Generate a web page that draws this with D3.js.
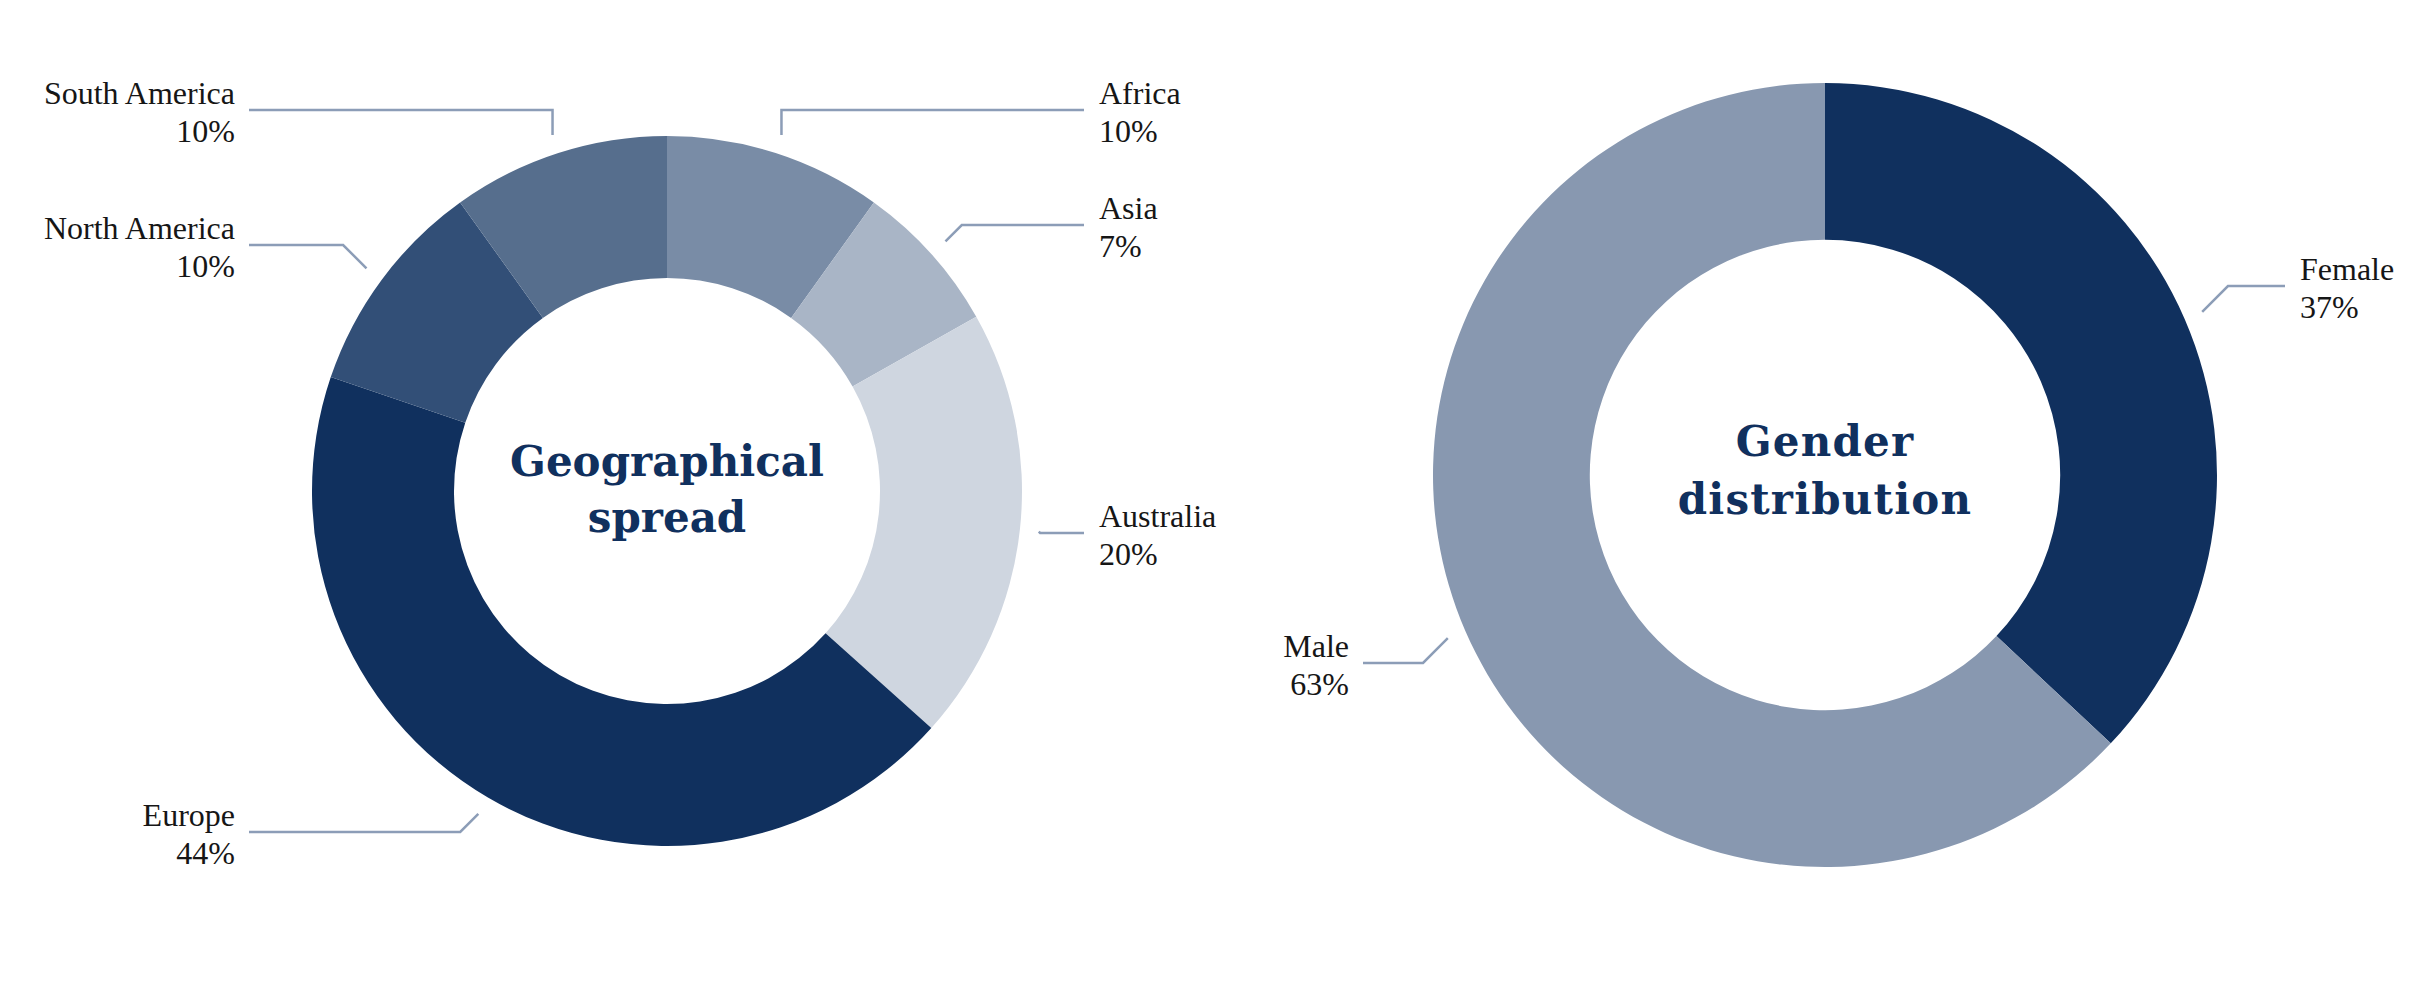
<!DOCTYPE html>
<html>
<head>
<meta charset="utf-8">
<script src="https://cdn.jsdelivr.net/npm/d3@7"></script>
<style>
  body { margin: 0; background: #ffffff; }
  svg { display: block; }
  .lbl { font-family: "Liberation Serif", "DejaVu Serif", serif; font-size: 32px; fill: #161616; }
  .ttl { font-family: "DejaVu Serif", serif; font-weight: bold; font-size: 42px; fill: #10305e; }
</style>
</head>
<body>
<div id="chart"></div>
<script>
// geographical spread (percent, clockwise from 12 o'clock)
var regions = ["Africa", "Asia", "Australia", "Europe", "North America", "South America"];
var regionValues = [10, 7, 20, 44, 10, 10];
var regionColors = ["#798ca6", "#a9b5c6", "#cfd6e0", "#10305e", "#324f77", "#566e8d"];

// gender distribution
var genders = ["Female", "Male"];
var genderValues = [37, 63];
var genderColors = ["#10305e", "#8898b0"];

// y of each label's leader line (layout only)
var regionLineY = [110, 225, 533, 832, 245, 110];
var genderLineY = [286, 663];

function init() {
    var w = 2428;
    var h = 996;

    var svg = d3.select("#chart")
                .append("svg")
                .attr("width", w)
                .attr("height", h);

    drawDonut(svg, {
        cx: 667, cy: 491, r: 355,
        names: regions, values: regionValues, colors: regionColors,
        lineY: regionLineY,
        leftX: 235, rightX: 1099,
        title: ["Geographical", "spread"], titleY: [476, 532], spacing: 0
    });

    drawDonut(svg, {
        cx: 1825, cy: 475, r: 392,
        names: genders, values: genderValues, colors: genderColors,
        lineY: genderLineY,
        leftX: 1349, rightX: 2300,
        title: ["Gender", "distribution"], titleY: [456, 514], spacing: 1.2
    });
}

function drawDonut(svg, o) {
    var pie = d3.pie().sort(null).value(function(d) { return d; });
    var arcs = pie(o.values);

    var arc = d3.arc()
                .innerRadius(o.r * 0.6)
                .outerRadius(o.r);

    var g = svg.append("g")
                .attr("transform", "translate(" + o.cx + "," + o.cy + ")");

    g.selectAll("path")
        .data(arcs)
        .enter()
        .append("path")
        .attr("d", arc)
        .attr("fill", function(d, i) { return o.colors[i]; });

    // leader lines + labels
    var rs = o.r + 19;
    arcs.forEach(function(d, i) {
        var a = (d.startAngle + d.endAngle) / 2;
        var sx = o.cx + rs * Math.sin(a);
        var sy = o.cy - rs * Math.cos(a);
        var right = Math.sin(a) >= 0;
        var ly = o.lineY[i];
        var textX = right ? o.rightX : o.leftX;
        var endX = right ? textX - 15 : textX + 14;
        var dy = Math.abs(ly - sy);
        var ex;
        if (Math.abs(endX - sx) > 280) ex = sx;          // vertical elbow
        else ex = sx + (right ? dy : -dy);             // 45 degree elbow

        var pts = [[sx, sy], [ex, ly], [endX, ly]];
        svg.append("path")
            .attr("d", d3.line()(pts))
            .attr("fill", "none")
            .attr("stroke", "#8c9db7")
            .attr("stroke-width", 2.5);

        var t = svg.append("text")
            .attr("class", "lbl")
            .attr("text-anchor", right ? "start" : "end");
        t.append("tspan").attr("x", textX).attr("y", ly - 6).text(o.names[i]);
        t.append("tspan").attr("x", textX).attr("y", ly + 32).text(o.values[i] + "%");
    });

    o.title.forEach(function(s, i) {
        svg.append("text")
            .attr("class", "ttl")
            .attr("text-anchor", "middle")
            .attr("letter-spacing", o.spacing)
            .attr("x", o.cx)
            .attr("y", o.titleY[i])
            .text(s);
    });
}

window.onload = init;
</script>
</body>
</html>
